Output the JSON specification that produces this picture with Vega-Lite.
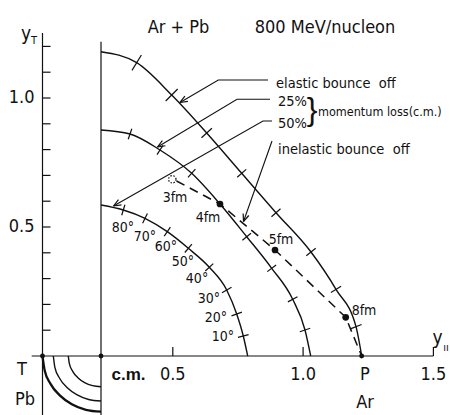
{
"$schema": "https://vega.github.io/schema/vega-lite/v6.json",
"width": 450, "height": 415, "autosize": "none", "padding": 0,
"background": "white",
"config": {"view": {"stroke": null}, "text": {"font": "DejaVu Sans Condensed", "color": "#111"}},
"datasets": {
"arcs": [
{"c":"outer","x":0.2245,"y":1.1795},{"c":"outer","x":0.3615,"y":1.1368},{"c":"outer","x":0.4958,"y":1.0116},{"c":"outer","x":0.6301,"y":0.8643},{"c":"outer","x":0.7644,"y":0.7081},{"c":"outer","x":0.8960,"y":0.5554},{"c":"outer","x":1.0303,"y":0.4031},{"c":"outer","x":1.1262,"y":0.2585},{"c":"outer","x":1.2030,"y":0.1136},{"c":"outer","x":1.2248,"y":0},
{"c":"middle","x":0.2245,"y":0.8760},{"c":"middle","x":0.3358,"y":0.8605},{"c":"middle","x":0.4509,"y":0.7984},{"c":"middle","x":0.5725,"y":0.7081},{"c":"middle","x":0.6811,"y":0.5891},{"c":"middle","x":0.7836,"y":0.4624},{"c":"middle","x":0.8795,"y":0.3399},{"c":"middle","x":0.9601,"y":0.2198},{"c":"middle","x":1.0073,"y":0.1008},{"c":"middle","x":1.0292,"y":0},
{"c":"inner","x":0.2245,"y":0.5853},{"c":"inner","x":0.3101,"y":0.5659},{"c":"inner","x":0.3933,"y":0.5337},{"c":"inner","x":0.4789,"y":0.4818},{"c":"inner","x":0.5595,"y":0.4174},{"c":"inner","x":0.6401,"y":0.3438},{"c":"inner","x":0.7068,"y":0.2558},{"c":"inner","x":0.7452,"y":0.1628},{"c":"inner","x":0.7705,"y":0.0775},{"c":"inner","x":0.7874,"y":0},
{"c":"L2","x":0.0415,"y":0},{"c":"L2","x":0.0477,"y":-0.0451},{"c":"L2","x":0.0660,"y":-0.0872},{"c":"L2","x":0.0951,"y":-0.1233},{"c":"L2","x":0.1330,"y":-0.1510},{"c":"L2","x":0.1771,"y":-0.1685},{"c":"L2","x":0.2245,"y":-0.1744},
{"c":"L3","x":0.0990,"y":0},{"c":"L3","x":0.1033,"y":-0.0308},{"c":"L3","x":0.1158,"y":-0.0595},{"c":"L3","x":0.1358,"y":-0.0841},{"c":"L3","x":0.1617,"y":-0.1031},{"c":"L3","x":0.1920,"y":-0.1149},{"c":"L3","x":0.2245,"y":-0.1190}
],
"thick": [
{"c":"L1","x":0,"y":0},{"c":"L1","x":0.0084,"y":-0.0559},{"c":"L1","x":0.0308,"y":-0.1080},{"c":"L1","x":0.0663,"y":-0.1527},{"c":"L1","x":0.1126,"y":-0.1870},{"c":"L1","x":0.1666,"y":-0.2085},{"c":"L1","x":0.2245,"y":-0.2159}
],
"leaders": [
{"c":"e","x":0.8653,"y":1.0698},{"c":"e","x":0.6746,"y":1.0698},{"c":"e","x":0.5276,"y":0.9826},
{"c":"a25","x":0.8730,"y":0.9950},{"c":"a25","x":0.7464,"y":0.9950},{"c":"a25","x":0.4413,"y":0.8101},
{"c":"a50","x":0.8807,"y":0.9109},{"c":"a50","x":0.8461,"y":0.9109},{"c":"a50","x":0.2725,"y":0.5814},
{"c":"in","x":0.8807,"y":0.8333},{"c":"in","x":0.7713,"y":0.5213}
],
"dashed": [
{"x":0.5142,"y":0.6783},{"x":0.6811,"y":0.5891},{"x":0.8922,"y":0.4109},{"x":1.1635,"y":0.15},{"x":1.2248,"y":0}
],
"segs": [
{"x":0,"y":-0.23,"x2":0,"y2":1.252},
{"x":0.2245,"y":-0.23,"x2":0.2245,"y2":1.218},
{"x":-0.0414,"y":0,"x2":1.5,"y2":0},
{"x":0.3795,"y":1.1667,"x2":0.3434,"y2":1.1070},
{"x":0.5188,"y":1.0349,"x2":0.4728,"y2":0.9884},
{"x":0.6500,"y":0.8826,"x2":0.6101,"y2":0.8461},
{"x":0.7817,"y":0.7233,"x2":0.7471,"y2":0.6930},
{"x":0.9133,"y":0.5709,"x2":0.8787,"y2":0.5399},
{"x":1.0483,"y":0.4175,"x2":1.0123,"y2":0.3888},
{"x":1.1458,"y":0.2705,"x2":1.1067,"y2":0.2465},
{"x":1.2245,"y":0.1221,"x2":1.1815,"y2":0.1050},
{"x":0.3427,"y":0.8806,"x2":0.3289,"y2":0.8403},
{"x":0.4624,"y":0.8163,"x2":0.4394,"y2":0.7806},
{"x":0.5867,"y":0.7240,"x2":0.5583,"y2":0.6923},
{"x":0.8001,"y":0.4756,"x2":0.7671,"y2":0.4488},
{"x":0.8964,"y":0.3527,"x2":0.8626,"y2":0.3271},
{"x":0.9785,"y":0.2299,"x2":0.9417,"y2":0.2097},
{"x":1.0273,"y":0.1074,"x2":0.9873,"y2":0.0942},
{"x":0.3162,"y":0.5864,"x2":0.3039,"y2":0.5454},
{"x":0.4025,"y":0.5527,"x2":0.3841,"y2":0.5147},
{"x":0.4908,"y":0.4992,"x2":0.4670,"y2":0.4643},
{"x":0.5733,"y":0.4337,"x2":0.5461,"y2":0.4012},
{"x":0.6554,"y":0.3581,"x2":0.6247,"y2":0.3295},
{"x":0.7253,"y":0.2667,"x2":0.6888,"y2":0.2450},
{"x":0.7652,"y":0.1702,"x2":0.7253,"y2":0.1554},
{"x":0.7909,"y":0.0830,"x2":0.7502,"y2":0.0721},
{"x":0.5276,"y":0.9826,"x2":0.5580,"y2":0.9871},
{"x":0.5276,"y":0.9826,"x2":0.5464,"y2":1.0071},
{"x":0.4413,"y":0.8101,"x2":0.4716,"y2":0.8149},
{"x":0.4413,"y":0.8101,"x2":0.4598,"y2":0.8349},
{"x":0.2725,"y":0.5814,"x2":0.3029,"y2":0.5855},
{"x":0.2725,"y":0.5814,"x2":0.2915,"y2":0.6057},
{"x":0.7713,"y":0.5213,"x2":0.7916,"y2":0.5445},
{"x":0.7713,"y":0.5213,"x2":0.7700,"y2":0.5523}
],
"ytk": [{"v":0.1},{"v":0.2},{"v":0.3},{"v":0.4},{"v":0.5},{"v":0.6},{"v":0.7},{"v":0.8},{"v":0.9},{"v":1.0},{"v":1.1},{"v":1.2}],
"xtk": [{"v":0.5},{"v":1.0},{"v":1.5}],
"ylab": [{"t":"1.0","v":1.0},{"t":"0.5","v":0.5}],
"dots": [{"x":0.6811,"y":0.5891},{"x":0.8922,"y":0.4109},{"x":1.1635,"y":0.15}],
"axdots": [{"x":0,"y":0},{"x":0.2245,"y":0},{"x":1.2248,"y":0}],
"open": [{"x":0.4981,"y":0.6849}],
"title": [{"t":"Ar + Pb","x":0.5219,"y":1.2519},{"t":"800 MeV/nucleon","x":1.0840,"y":1.2519}],
"txtA": [
{"t":"0.5","x":0.5,"y":-0.0930},{"t":"1.0","x":1.0,"y":-0.0930},{"t":"1.5","x":1.5,"y":-0.0930},
{"t":"P","x":1.2375,"y":-0.0930},{"t":"Ar","x":1.2375,"y":-0.2016},
{"t":"T","x":-0.0787,"y":-0.0736},{"t":"Pb","x":-0.0672,"y":-0.1899}
],
"txtC": [
{"t":"elastic bounce\u00a0 off","x":0.8960,"y":1.0388},{"t":"25%","x":0.9037,"y":0.9671},{"t":"50%","x":0.9037,"y":0.8837},{"t":"inelastic bounce\u00a0 off","x":0.9037,"y":0.7830}
],
"txtD": [{"t":"momentum loss(c.m.)","x":1.0572,"y":0.9302}],
"deg": [
{"t":"80°","x":0.3089,"y":0.4961},{"t":"70°","x":0.3933,"y":0.4612},{"t":"60°","x":0.4739,"y":0.4225},{"t":"50°","x":0.5391,"y":0.3643},{"t":"40°","x":0.5929,"y":0.2985},{"t":"30°","x":0.6389,"y":0.2209},{"t":"20°","x":0.6658,"y":0.1473},{"t":"10°","x":0.6926,"y":0.0736},
{"t":"3fm","x":0.5084,"y":0.6124},{"t":"4fm","x":0.6351,"y":0.5349},{"t":"5fm","x":0.9152,"y":0.4496},{"t":"8fm","x":1.2337,"y":0.1744}
],
"cm": [{"t":"c.m.","x":0.3300,"y":-0.0930}],
"ysym": [{"t":"y","x":-0.0633,"y":1.2248},{"t":"y","x":1.5157,"y":0.0465}],
"subs": [{"t":"T","x":-0.0326,"y":1.2093},{"t":"ıı","x":1.5484,"y":0.0194}],
"brace": [{"t":"}","x":1.0342,"y":0.9535}]
},
"layer": [
{"data":{"name":"arcs"},"mark":{"type":"line","interpolate":"monotone","stroke":"#111","strokeWidth":1.4},
 "encoding":{"x":{"field":"x","type":"quantitative","scale":{"domain":[-0.163085,1.563699],"nice":false,"zero":false},"axis":null},
 "y":{"field":"y","type":"quantitative","scale":{"domain":[-0.228682,1.379845],"nice":false,"zero":false},"axis":null},
 "detail":{"field":"c"}}},
{"data":{"name":"thick"},"mark":{"type":"line","interpolate":"monotone","stroke":"#111","strokeWidth":2.3},
 "encoding":{"x":{"field":"x","type":"quantitative","scale":{"domain":[-0.163085,1.563699],"nice":false,"zero":false},"axis":null},
 "y":{"field":"y","type":"quantitative","scale":{"domain":[-0.228682,1.379845],"nice":false,"zero":false},"axis":null},
 "detail":{"field":"c"}}},
{"data":{"name":"leaders"},"mark":{"type":"line","stroke":"#111","strokeWidth":1.1},
 "encoding":{"x":{"field":"x","type":"quantitative","scale":{"domain":[-0.163085,1.563699],"nice":false,"zero":false},"axis":null},
 "y":{"field":"y","type":"quantitative","scale":{"domain":[-0.228682,1.379845],"nice":false,"zero":false},"axis":null},
 "detail":{"field":"c"}}},
{"data":{"name":"dashed"},"mark":{"type":"line","stroke":"#111","strokeWidth":1.5,"strokeDash":[9,6]},
 "encoding":{"x":{"field":"x","type":"quantitative","scale":{"domain":[-0.163085,1.563699],"nice":false,"zero":false},"axis":null},
 "y":{"field":"y","type":"quantitative","scale":{"domain":[-0.228682,1.379845],"nice":false,"zero":false},"axis":null}}},
{"data":{"name":"segs"},"mark":{"type":"rule","stroke":"#111","strokeWidth":1.2},
 "encoding":{"x":{"field":"x","type":"quantitative","scale":{"domain":[-0.163085,1.563699],"nice":false,"zero":false},"axis":null},
 "y":{"field":"y","type":"quantitative","scale":{"domain":[-0.228682,1.379845],"nice":false,"zero":false},"axis":null},
 "x2":{"field":"x2"},"y2":{"field":"y2"}}},
{"data":{"name":"ytk"},"mark":{"type":"rule","stroke":"#111","strokeWidth":1.2},
 "encoding":{"x":{"datum":0,"type":"quantitative","scale":{"domain":[-0.163085,1.563699],"nice":false,"zero":false},"axis":null},
 "x2":{"datum":0.0307},
 "y":{"field":"v","type":"quantitative","scale":{"domain":[-0.228682,1.379845],"nice":false,"zero":false},"axis":null}}},
{"data":{"name":"xtk"},"mark":{"type":"rule","stroke":"#111","strokeWidth":1.2},
 "encoding":{"x":{"field":"v","type":"quantitative","scale":{"domain":[-0.163085,1.563699],"nice":false,"zero":false},"axis":null},
 "y":{"datum":0,"type":"quantitative","scale":{"domain":[-0.228682,1.379845],"nice":false,"zero":false},"axis":null},
 "y2":{"datum":0.035}}},
{"data":{"name":"dots"},"mark":{"type":"point","filled":true,"color":"#111","size":45,"opacity":1},
 "encoding":{"x":{"field":"x","type":"quantitative","scale":{"domain":[-0.163085,1.563699],"nice":false,"zero":false},"axis":null},
 "y":{"field":"y","type":"quantitative","scale":{"domain":[-0.228682,1.379845],"nice":false,"zero":false},"axis":null}}},
{"data":{"name":"axdots"},"mark":{"type":"point","filled":true,"color":"#111","size":24,"opacity":1},
 "encoding":{"x":{"field":"x","type":"quantitative","scale":{"domain":[-0.163085,1.563699],"nice":false,"zero":false},"axis":null},
 "y":{"field":"y","type":"quantitative","scale":{"domain":[-0.228682,1.379845],"nice":false,"zero":false},"axis":null}}},
{"data":{"name":"open"},"mark":{"type":"point","filled":false,"stroke":"#111","strokeWidth":1.2,"strokeDash":[1.5,1.5],"size":55,"opacity":1},
 "encoding":{"x":{"field":"x","type":"quantitative","scale":{"domain":[-0.163085,1.563699],"nice":false,"zero":false},"axis":null},
 "y":{"field":"y","type":"quantitative","scale":{"domain":[-0.228682,1.379845],"nice":false,"zero":false},"axis":null}}},
{"data":{"name":"ylab"},"mark":{"type":"text","fontSize":18,"align":"right","baseline":"middle","dx":-8},
 "encoding":{"x":{"datum":0,"type":"quantitative","scale":{"domain":[-0.163085,1.563699],"nice":false,"zero":false},"axis":null},
 "y":{"field":"v","type":"quantitative","scale":{"domain":[-0.228682,1.379845],"nice":false,"zero":false},"axis":null},
 "text":{"field":"t"}}},
{"data":{"name":"title"},"mark":{"type":"text","fontSize":18,"align":"center","baseline":"alphabetic"},
 "encoding":{"x":{"field":"x","type":"quantitative","scale":{"domain":[-0.163085,1.563699],"nice":false,"zero":false},"axis":null},
 "y":{"field":"y","type":"quantitative","scale":{"domain":[-0.228682,1.379845],"nice":false,"zero":false},"axis":null},
 "text":{"field":"t"}}},
{"data":{"name":"txtA"},"mark":{"type":"text","fontSize":18,"align":"center","baseline":"alphabetic"},
 "encoding":{"x":{"field":"x","type":"quantitative","scale":{"domain":[-0.163085,1.563699],"nice":false,"zero":false},"axis":null},
 "y":{"field":"y","type":"quantitative","scale":{"domain":[-0.228682,1.379845],"nice":false,"zero":false},"axis":null},
 "text":{"field":"t"}}},
{"data":{"name":"txtC"},"mark":{"type":"text","fontSize":14.5,"align":"left","baseline":"alphabetic"},
 "encoding":{"x":{"field":"x","type":"quantitative","scale":{"domain":[-0.163085,1.563699],"nice":false,"zero":false},"axis":null},
 "y":{"field":"y","type":"quantitative","scale":{"domain":[-0.228682,1.379845],"nice":false,"zero":false},"axis":null},
 "text":{"field":"t"}}},
{"data":{"name":"txtD"},"mark":{"type":"text","fontSize":12.5,"align":"left","baseline":"alphabetic"},
 "encoding":{"x":{"field":"x","type":"quantitative","scale":{"domain":[-0.163085,1.563699],"nice":false,"zero":false},"axis":null},
 "y":{"field":"y","type":"quantitative","scale":{"domain":[-0.228682,1.379845],"nice":false,"zero":false},"axis":null},
 "text":{"field":"t"}}},
{"data":{"name":"deg"},"mark":{"type":"text","fontSize":14,"align":"center","baseline":"middle"},
 "encoding":{"x":{"field":"x","type":"quantitative","scale":{"domain":[-0.163085,1.563699],"nice":false,"zero":false},"axis":null},
 "y":{"field":"y","type":"quantitative","scale":{"domain":[-0.228682,1.379845],"nice":false,"zero":false},"axis":null},
 "text":{"field":"t"}}},
{"data":{"name":"cm"},"mark":{"type":"text","fontSize":17,"font":"Liberation Sans","fontWeight":"bold","align":"center","baseline":"alphabetic"},
 "encoding":{"x":{"field":"x","type":"quantitative","scale":{"domain":[-0.163085,1.563699],"nice":false,"zero":false},"axis":null},
 "y":{"field":"y","type":"quantitative","scale":{"domain":[-0.228682,1.379845],"nice":false,"zero":false},"axis":null},
 "text":{"field":"t"}}},
{"data":{"name":"ysym"},"mark":{"type":"text","fontSize":19,"align":"center","baseline":"alphabetic"},
 "encoding":{"x":{"field":"x","type":"quantitative","scale":{"domain":[-0.163085,1.563699],"nice":false,"zero":false},"axis":null},
 "y":{"field":"y","type":"quantitative","scale":{"domain":[-0.228682,1.379845],"nice":false,"zero":false},"axis":null},
 "text":{"field":"t"}}},
{"data":{"name":"subs"},"mark":{"type":"text","fontSize":11,"align":"center","baseline":"alphabetic"},
 "encoding":{"x":{"field":"x","type":"quantitative","scale":{"domain":[-0.163085,1.563699],"nice":false,"zero":false},"axis":null},
 "y":{"field":"y","type":"quantitative","scale":{"domain":[-0.228682,1.379845],"nice":false,"zero":false},"axis":null},
 "text":{"field":"t"}}},
{"data":{"name":"brace"},"mark":{"type":"text","fontSize":32,"font":"Liberation Sans","align":"center","baseline":"middle"},
 "encoding":{"x":{"field":"x","type":"quantitative","scale":{"domain":[-0.163085,1.563699],"nice":false,"zero":false},"axis":null},
 "y":{"field":"y","type":"quantitative","scale":{"domain":[-0.228682,1.379845],"nice":false,"zero":false},"axis":null},
 "text":{"field":"t"}}}
]
}
